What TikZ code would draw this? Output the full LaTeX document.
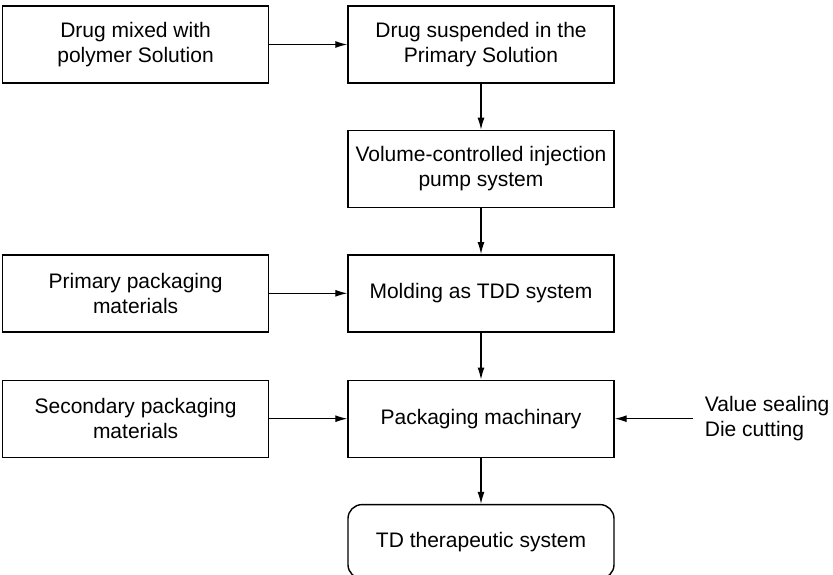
\documentclass[tikz,border=0pt]{standalone}
\usepackage{fontspec}
\setmainfont{Liberation Sans}
\usetikzlibrary{arrows.meta,positioning}

\begin{document}
\begin{tikzpicture}[x=1pt, y=1pt,
        font=\fontsize{21}{25}\selectfont, >={Latex[length=12pt,width=7pt]},
        box/.style={draw, line width=1.4pt, minimum width=266pt, minimum height=77pt, align=center, inner sep=2pt},
        endbox/.style={box, rounded corners=14pt, minimum height=74pt},
        link/.style={->, line width=1.2pt}
        ]
      \useasboundingbox (0,0) rectangle (833,-575);
      \node [box] (susp) at (481,-44.5) {Drug suspended in the\\Primary Solution};
      \node [box, below=46pt of susp] (pump) {Volume-controlled injection\\pump system};
      \node [box, below=46pt of pump] (mold) {Molding as TDD system};
      \node [box, below=47pt of mold] (mach) {Packaging machinary};
      \node [endbox, below=46pt of mach] (tds) {TD therapeutic system};
      \node [box, left=78pt of susp] (mix) {Drug mixed with\\polymer Solution};
      \node [box, left=78pt of mold] (prim) {Primary packaging\\materials};
      \node [box, left=78pt of mach] (sec) {Secondary packaging\\materials};
      \node [right=78pt of mach, align=left, inner xsep=12pt, inner ysep=0pt] (seal) {Value sealing\\Die cutting};

      \draw [link] (mix) -- (susp);
      \draw [link] (susp) -- (pump);
      \draw [link] (pump) -- (mold);
      \draw [link] (prim) -- (mold);
      \draw [link] (mold) -- (mach);
      \draw [link] (sec) -- (mach);
      \draw [link] (seal.west) -- (mach.east);
      \draw [link] (mach) -- (tds);
    \end{tikzpicture}
\end{document}
